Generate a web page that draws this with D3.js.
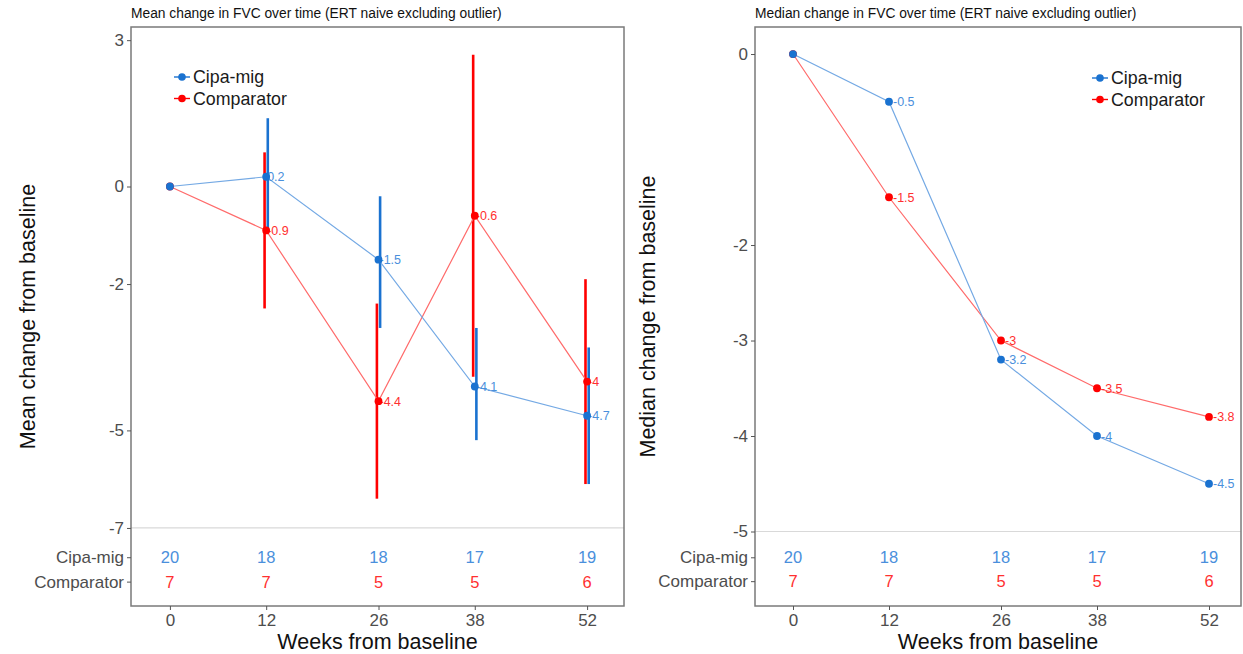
<!DOCTYPE html>
<html>
<head>
<meta charset="utf-8">
<script src="https://cdn.jsdelivr.net/npm/d3@7/dist/d3.min.js"></script>
<style>
  html, body { margin: 0; padding: 0; background: #fff; }
  svg { display: block; font-family: "Liberation Sans", Arial, sans-serif; }
</style>
</head>
<body>
<svg id="chart" width="1243" height="654"></svg>
<script>
// Visit weeks and group labels
const weeks = [0, 12, 26, 38, 52];
const groups = ["Cipa-mig", "Comparator"];

// Mean change in FVC with interval bounds (week 0 has no interval)
const meanCipa = [0, 0.2, -1.5, -4.1, -4.7];
const meanCipaLo = [null, -0.9, -2.9, -5.2, -6.1];
const meanCipaHi = [null, 1.4, -0.2, -2.9, -3.3];
const meanComp = [0, -0.9, -4.4, -0.6, -4];
const meanCompLo = [null, -2.5, -6.4, -3.9, -6.1];
const meanCompHi = [null, 0.7, -2.4, 2.7, -1.9];

// Median change in FVC
const medianCipa = [0, -0.5, -3.2, -4, -4.5];
const medianComp = [0, -1.5, -3, -3.5, -3.8];

// Number of subjects at each visit
const nCipa = [20, 18, 18, 17, 19];
const nComp = [7, 7, 5, 5, 6];

// Tick values
const meanTicks = [3, 0, -2, -5, -7];
const medianTicks = [0, -2, -3, -4, -5];

const BLUE = "#1a72d0", BLUE_LINE = "#74a9e4", BLUE_TXT = "#4a8fdc";
const RED = "#ff0000", RED_LINE = "#ff6b6b", RED_TXT = "#ff3030";

const svg = d3.select("#chart");

function panel(cfg) {
  const g = svg.append("g");
  const x = d3.scaleLinear().domain(cfg.xDomain).range([cfg.left, cfg.right]);
  const y = d3.scaleLinear().domain(cfg.yDomain).range([cfg.bottom, cfg.top]);

  // reference line separating the subject-count table
  g.append("line")
    .attr("x1", cfg.left).attr("x2", cfg.right)
    .attr("y1", y(cfg.hline)).attr("y2", y(cfg.hline))
    .attr("stroke", "#d9d9d9").attr("stroke-width", 1.2);

  const series = [
    { name: groups[0], vals: cfg.cipa, lo: cfg.cipaLo, hi: cfg.cipaHi, n: nCipa,
      c: BLUE, lc: BLUE_LINE, tc: BLUE_TXT, dodge: 1.6 },
    { name: groups[1], vals: cfg.comp, lo: cfg.compLo, hi: cfg.compHi, n: nComp,
      c: RED, lc: RED_LINE, tc: RED_TXT, dodge: -1.6 }
  ];
  // comparator drawn underneath, so the shared baseline point shows blue
  const drawOrder = [series[1], series[0]];

  const line = d3.line().x(d => x(d.w)).y(d => y(d.v));

  // error bars
  drawOrder.forEach(s => {
    if (!s.lo) return;
    weeks.forEach((w, i) => {
      if (s.lo[i] == null) return;
      g.append("line")
        .attr("x1", x(w) + s.dodge).attr("x2", x(w) + s.dodge)
        .attr("y1", y(s.lo[i])).attr("y2", y(s.hi[i]))
        .attr("stroke", s.c).attr("stroke-width", 2.6);
    });
  });

  // lines
  drawOrder.forEach(s => {
    const pts = weeks.map((w, i) => ({ w, v: s.vals[i] }));
    g.append("path").datum(pts)
      .attr("d", line)
      .attr("fill", "none")
      .attr("stroke", s.lc).attr("stroke-width", 1.2);
  });

  // value labels
  drawOrder.forEach(s => {
    weeks.forEach((w, i) => {
      if (i === 0) return;
      g.append("text")
        .attr("x", x(w) + cfg.labelDx).attr("y", y(s.vals[i]))
        .attr("dy", "0.36em")
        .attr("font-size", 12.5)
        .attr("fill", s.tc)
        .text(String(s.vals[i]));
    });
  });

  // points
  drawOrder.forEach(s => {
    weeks.forEach((w, i) => {
      g.append("circle")
        .attr("cx", x(w)).attr("cy", y(s.vals[i]))
        .attr("r", cfg.r).attr("fill", s.c);
    });
  });

  // subject-count table
  series.forEach((s, k) => {
    weeks.forEach((w, i) => {
      g.append("text")
        .attr("x", x(w)).attr("y", y(cfg.rows[k]))
        .attr("dy", "0.36em")
        .attr("text-anchor", "middle")
        .attr("font-size", 16.5)
        .attr("fill", s.tc)
        .text(s.n[i]);
    });
  });

  // frame
  g.append("rect")
    .attr("x", cfg.left).attr("y", cfg.top)
    .attr("width", cfg.right - cfg.left).attr("height", cfg.bottom - cfg.top)
    .attr("fill", "none").attr("stroke", "#7a7a7a").attr("stroke-width", 1.5);

  // y axis: numeric ticks plus table row names
  const yAxis = d3.axisLeft(y)
    .tickValues(cfg.yTicks.concat(cfg.rows))
    .tickFormat(v => {
      const k = cfg.rows.indexOf(v);
      return k >= 0 ? groups[k] : String(v);
    })
    .tickSize(4).tickPadding(3);
  const ya = g.append("g").attr("transform", `translate(${cfg.left},0)`).call(yAxis);
  ya.select(".domain").remove();
  ya.selectAll(".tick line").attr("stroke", "#555");
  ya.selectAll(".tick text").attr("fill", "#4d4d4d").attr("font-size", 17)
    .attr("font-family", "Liberation Sans, Arial, sans-serif");

  // x axis
  const xAxis = d3.axisBottom(x).tickValues(weeks).tickFormat(d3.format("d"))
    .tickSize(4).tickPadding(4);
  const xa = g.append("g").attr("transform", `translate(0,${cfg.bottom})`).call(xAxis);
  xa.select(".domain").remove();
  xa.selectAll(".tick line").attr("stroke", "#555");
  xa.selectAll(".tick text").attr("fill", "#4d4d4d").attr("font-size", 17)
    .attr("font-family", "Liberation Sans, Arial, sans-serif");

  // titles
  g.append("text")
    .attr("x", cfg.left).attr("y", 18)
    .attr("font-size", 13.8).attr("fill", "#111")
    .text(cfg.title);
  g.append("text")
    .attr("x", (cfg.left + cfg.right) / 2).attr("y", 649)
    .attr("text-anchor", "middle")
    .attr("font-size", 21.5).attr("fill", "#111")
    .text("Weeks from baseline");
  g.append("text")
    .attr("transform", `translate(${cfg.yTitleX},${(cfg.top + cfg.bottom) / 2}) rotate(-90)`)
    .attr("text-anchor", "middle")
    .attr("font-size", 21.5).attr("fill", "#111")
    .text(cfg.yTitle);

  // legend
  series.forEach((s, k) => {
    const ly = cfg.legend.y + k * 21.5;
    g.append("line")
      .attr("x1", cfg.legend.x).attr("x2", cfg.legend.x + 16)
      .attr("y1", ly).attr("y2", ly)
      .attr("stroke", s.c).attr("stroke-width", 1.4);
    g.append("circle")
      .attr("cx", cfg.legend.x + 8).attr("cy", ly).attr("r", 3.8).attr("fill", s.c);
    g.append("text")
      .attr("x", cfg.legend.x + 19).attr("y", ly).attr("dy", "0.36em")
      .attr("font-size", 17.8).attr("fill", "#1a1a1a")
      .text(s.name);
  });
}

panel({
  left: 131, right: 624, top: 27, bottom: 606,
  xDomain: [-4.85, 56.6], yDomain: [-8.6, 3.27],
  yTicks: meanTicks, rows: [-7.6, -8.1], hline: -7,
  cipa: meanCipa, cipaLo: meanCipaLo, cipaHi: meanCipaHi,
  comp: meanComp, compLo: meanCompLo, compHi: meanCompHi,
  labelDx: 1, r: 3.9,
  title: "Mean change in FVC over time (ERT naive excluding outlier)",
  yTitle: "Mean change from baseline", yTitleX: 35,
  legend: { x: 174, y: 77 }
});

panel({
  left: 755, right: 1241, top: 27, bottom: 606,
  xDomain: [-4.75, 56], yDomain: [-5.78, 0.283],
  yTicks: medianTicks, rows: [-5.27, -5.52], hline: -5,
  cipa: medianCipa, comp: medianComp,
  labelDx: 4, r: 3.9,
  title: "Median change in FVC over time (ERT naive excluding outlier)",
  yTitle: "Median change from baseline", yTitleX: 655,
  legend: { x: 1092, y: 78 }
});
</script>
</body>
</html>
